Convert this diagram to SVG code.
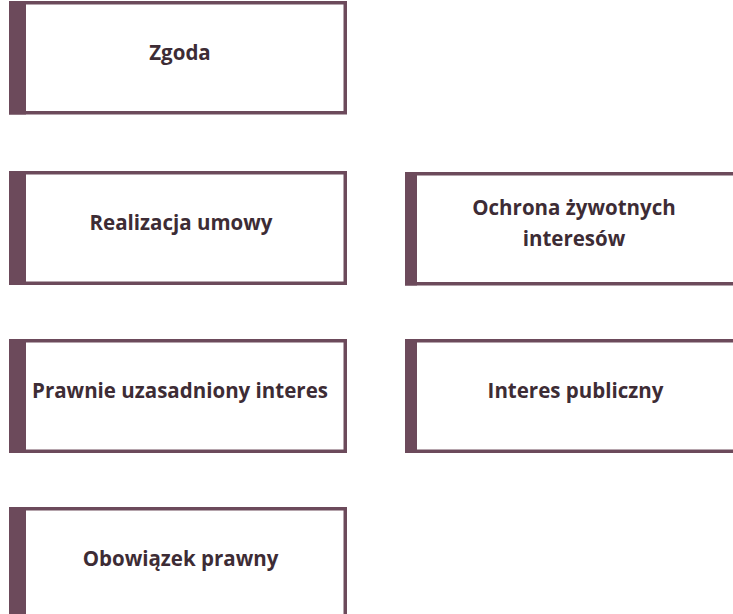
<svg xmlns="http://www.w3.org/2000/svg" width="733" height="614" viewBox="0 0 733 614">
<style>
.box{fill:#fff;stroke:#6c4a5b;stroke-width:3.5}
.bar{fill:#6c4a5b}
.t{font-family:"Open Sans","Noto Sans",sans-serif;font-weight:bold;font-size:20.5px;fill:#3d2c35;text-anchor:middle}
</style>
<rect width="733" height="614" fill="#fff"/>
<g id="zgoda">
<rect class="box" x="10.75" y="2.75" width="334.5" height="110"/>
<rect class="bar" x="9" y="1" width="17" height="113.5"/>
<text class="t" x="180" y="60">Zgoda</text>
</g>
<g id="realizacja">
<rect class="box" x="10.75" y="172.75" width="334.5" height="110.5"/>
<rect class="bar" x="9" y="171" width="17" height="114"/>
<text class="t" x="181" y="229.5">Realizacja umowy</text>
</g>
<g id="ochrona">
<rect class="box" x="406.75" y="173.75" width="340" height="110"/>
<rect class="bar" x="405" y="172" width="12" height="113.5"/>
<text class="t" x="574" y="215">Ochrona żywotnych</text>
<text class="t" x="574" y="246">interesów</text>
</g>
<g id="prawnie">
<rect class="box" x="10.75" y="340.75" width="334.5" height="110.5"/>
<rect class="bar" x="9" y="339" width="17" height="114"/>
<text class="t" x="180" y="397.5">Prawnie uzasadniony interes</text>
</g>
<g id="publiczny">
<rect class="box" x="406.75" y="340.75" width="340" height="110.5"/>
<rect class="bar" x="405" y="339" width="12" height="114"/>
<text class="t" x="575.5" y="397.5">Interes publiczny</text>
</g>
<g id="obowiazek">
<rect class="box" x="10.75" y="508.75" width="334.5" height="120"/>
<rect class="bar" x="9" y="507" width="17" height="120"/>
<text class="t" x="180.5" y="565.5">Obowiązek prawny</text>
</g>
<g id="connectors"></g>
</svg>
